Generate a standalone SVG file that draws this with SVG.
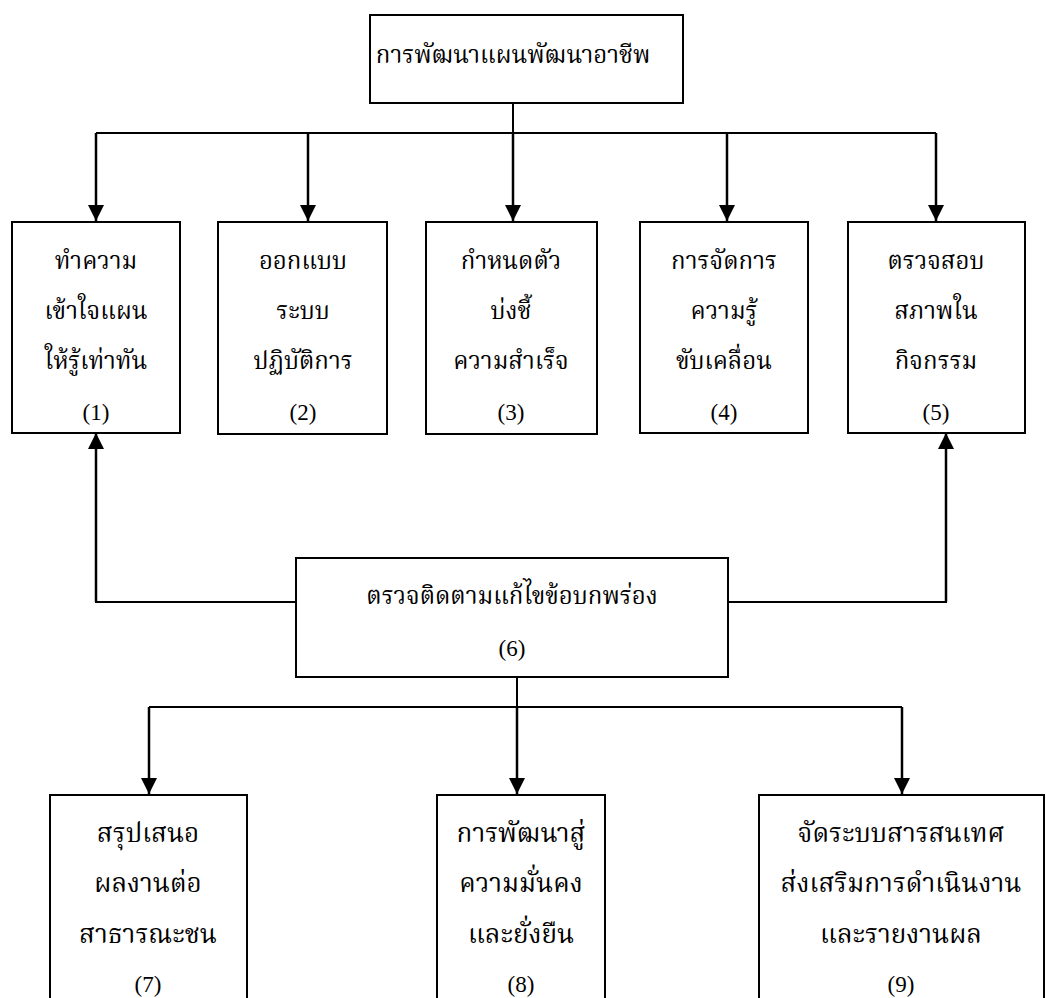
<svg xmlns="http://www.w3.org/2000/svg" width="1046" height="998" viewBox="0 0 1046 998">
<style>
.box{fill:#fff;stroke:#000;stroke-width:2}
.t{font-family:'Noto Serif Thai','Noto Sans Thai','Liberation Serif',serif;font-size:24px;fill:#000;text-anchor:middle}
.tb{font-family:'Noto Serif Thai','Noto Sans Thai','Liberation Serif',serif;font-size:26px;fill:#000;text-anchor:middle}
.n{font-family:'Liberation Serif',serif;font-size:23px;fill:#000;text-anchor:middle}
.ln{fill:none;stroke:#000;stroke-width:2}
.ar{fill:none;stroke:#000;stroke-width:2.5;marker-end:url(#ah)}
</style>
<defs>
<marker id="ah" markerUnits="userSpaceOnUse" markerWidth="16" markerHeight="18" refX="16" refY="8" orient="auto">
<path d="M0,0 L16,8 L0,16 Z" fill="#000"/>
</marker>
</defs>
<rect width="1046" height="998" fill="#fff"/>
<g id="connectors">
<line class="ln" x1="513" y1="103" x2="513" y2="133"/>
<line class="ln" x1="96" y1="133" x2="936" y2="133"/>
<line class="ar" x1="96" y1="133" x2="96" y2="221"/>
<line class="ar" x1="308" y1="133" x2="308" y2="221"/>
<line class="ar" x1="513" y1="133" x2="513" y2="221"/>
<line class="ar" x1="727" y1="133" x2="727" y2="221"/>
<line class="ar" x1="936" y1="133" x2="936" y2="221"/>
<polyline class="ln" points="296,602 96,602 96,445"/>
<line class="ar" x1="96" y1="602" x2="96" y2="433"/>
<polyline class="ln" points="728,602 946,602 946,445"/>
<line class="ar" x1="946" y1="602" x2="946" y2="433"/>
<line class="ln" x1="517" y1="677" x2="517" y2="707"/>
<line class="ln" x1="149" y1="707" x2="902" y2="707"/>
<line class="ar" x1="149" y1="707" x2="149" y2="794"/>
<line class="ar" x1="517" y1="707" x2="517" y2="794"/>
<line class="ar" x1="902" y1="707" x2="902" y2="794"/>
</g>
<g id="n0">
<rect class="box" x="370" y="15" width="313" height="88"/>
<text class="t" x="513" y="63">การพัฒนาแผนพัฒนาอาชีพ</text>
</g>
<g id="n1">
<rect class="box" x="12" y="222" width="168" height="211"/>
<text class="t" x="96" y="269">ทำความ</text>
<text class="t" x="96" y="319">เข้าใจแผน</text>
<text class="t" x="96" y="369">ให้รู้เท่าทัน</text>
<text class="n" x="96" y="420">(1)</text>
</g>
<g id="n2">
<rect class="box" x="218" y="222" width="169" height="212"/>
<text class="t" x="303" y="269">ออกแบบ</text>
<text class="t" x="303" y="319">ระบบ</text>
<text class="t" x="303" y="369">ปฏิบัติการ</text>
<text class="n" x="303" y="420">(2)</text>
</g>
<g id="n3">
<rect class="box" x="426" y="222" width="171" height="212"/>
<text class="t" x="511" y="269">กำหนดตัว</text>
<text class="t" x="511" y="319">บ่งชี้</text>
<text class="t" x="511" y="369">ความสำเร็จ</text>
<text class="n" x="511" y="420">(3)</text>
</g>
<g id="n4">
<rect class="box" x="640" y="222" width="168" height="211"/>
<text class="t" x="724" y="269">การจัดการ</text>
<text class="t" x="724" y="319">ความรู้</text>
<text class="t" x="724" y="369">ขับเคลื่อน</text>
<text class="n" x="724" y="420">(4)</text>
</g>
<g id="n5">
<rect class="box" x="848" y="222" width="177" height="211"/>
<text class="t" x="936" y="269">ตรวจสอบ</text>
<text class="t" x="936" y="319">สภาพใน</text>
<text class="t" x="936" y="369">กิจกรรม</text>
<text class="n" x="936" y="420">(5)</text>
</g>
<g id="n6">
<rect class="box" x="296" y="558" width="432" height="119"/>
<text class="t" x="512" y="604">ตรวจติดตามแก้ไขข้อบกพร่อง</text>
<text class="n" x="512" y="656">(6)</text>
</g>
<g id="n7">
<rect class="box" x="50" y="795" width="197" height="215"/>
<text class="tb" x="148" y="842">สรุปเสนอ</text>
<text class="tb" x="148" y="892">ผลงานต่อ</text>
<text class="tb" x="148" y="943">สาธารณะชน</text>
<text class="n" x="148" y="992">(7)</text>
</g>
<g id="n8">
<rect class="box" x="437" y="795" width="168" height="215"/>
<text class="tb" x="521" y="842">การพัฒนาสู่</text>
<text class="tb" x="521" y="892">ความมั่นคง</text>
<text class="tb" x="521" y="943">และยั่งยืน</text>
<text class="n" x="521" y="992">(8)</text>
</g>
<g id="n9">
<rect class="box" x="759" y="795" width="285" height="215"/>
<text class="tb" x="901" y="842">จัดระบบสารสนเทศ</text>
<text class="tb" x="901" y="892">ส่งเสริมการดำเนินงาน</text>
<text class="tb" x="901" y="943">และรายงานผล</text>
<text class="n" x="901" y="992">(9)</text>
</g>
</svg>
